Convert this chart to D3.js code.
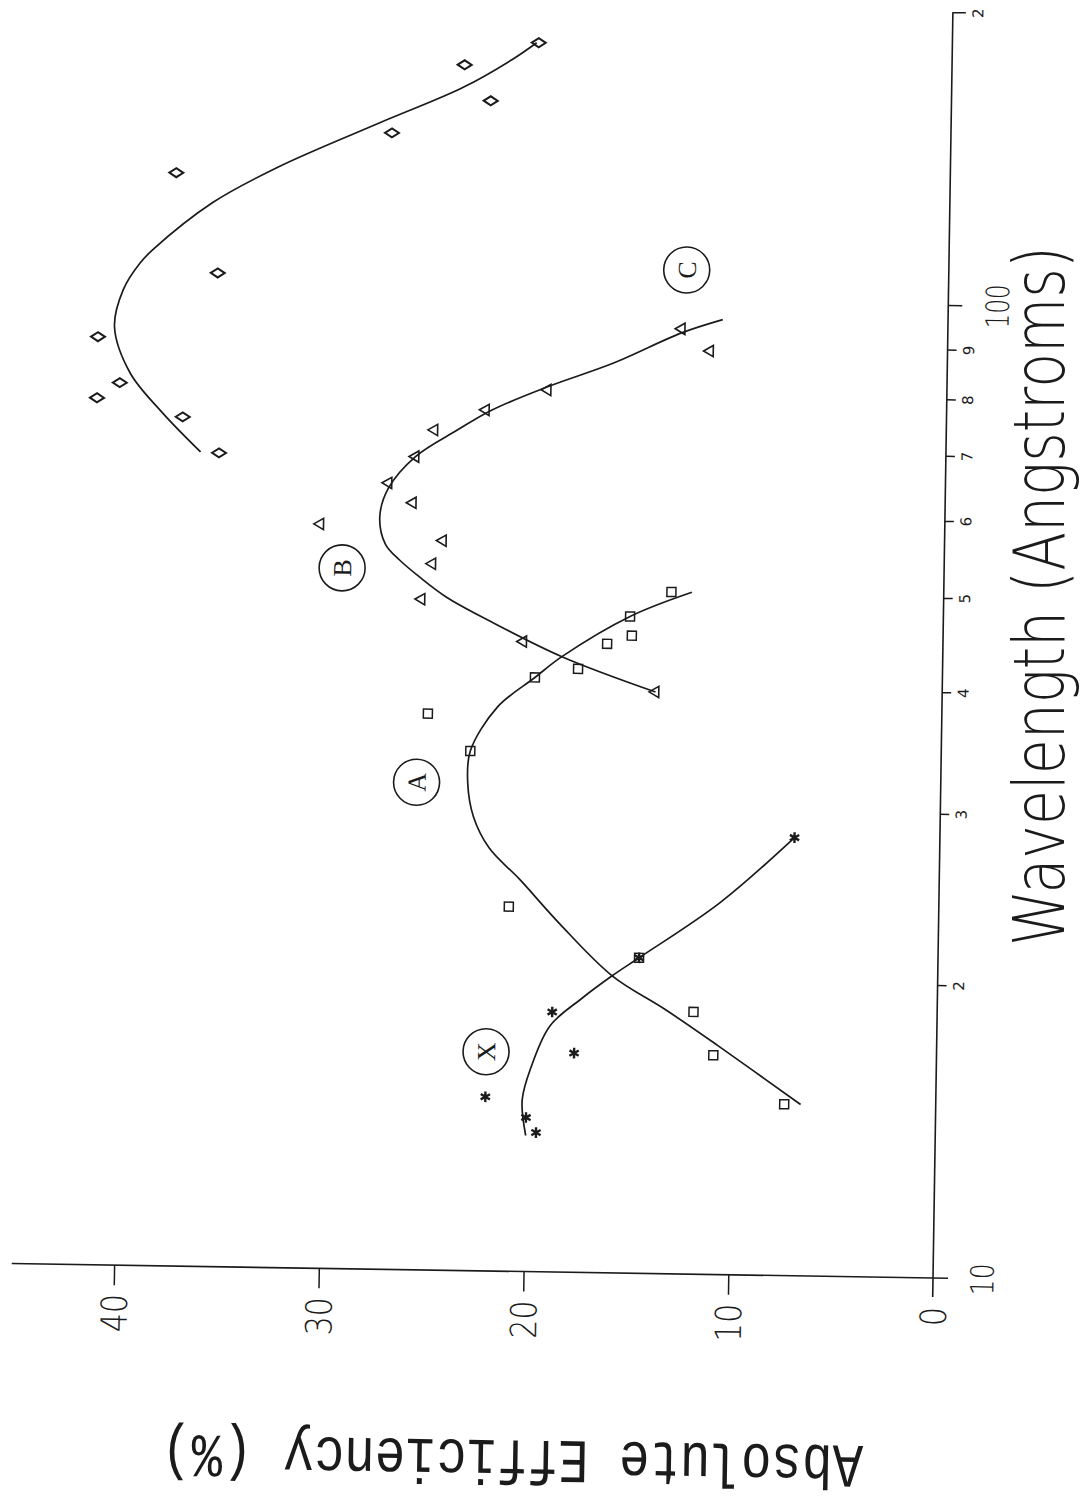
<!DOCTYPE html>
<html>
<head>
<meta charset="utf-8">
<script src="https://cdn.jsdelivr.net/npm/d3@7"></script>
<style>
  html, body { margin: 0; padding: 0; background: #fff; }
  svg { display: block; }
</style>
</head>
<body>
<svg id="chart" width="1084" height="1500"></svg>
<script>
// ---- Grating X (asterisks) ----
const xWavelength = [28.2, 21.1, 18.5, 16.8, 15.1, 14.4, 13.9];
const xEfficiency = [7.1, 14.6, 18.8, 17.7, 22.0, 20.0, 19.5];
const xFitWavelength = [13.8, 15.0, 16.2, 17.9, 19.1, 20.2, 21.1, 24.1, 28.2];
const xFitEfficiency = [20.0, 20.2, 19.8, 18.9, 17.4, 15.9, 14.6, 10.7, 7.1];

// ---- Grating A (squares) ----
const aWavelength = [15.0, 16.8, 18.6, 21.1, 23.7, 34.2, 37.3, 40.8, 41.7, 44.3, 45.2, 47.3, 50.2];
const aEfficiency = [7.4, 10.9, 11.9, 14.6, 21.0, 23.0, 25.1, 19.9, 17.8, 16.4, 15.2, 15.3, 13.3];
const aFitWavelength = [15.0, 17.2, 18.7, 20.2, 22.8, 25.3, 27.2, 29.3, 31.7, 34.2, 38.0, 40.8, 42.9, 47.3, 50.2];
const aFitEfficiency = [6.6, 10.7, 13.3, 15.9, 18.5, 20.5, 22.0, 22.8, 23.1, 23.0, 21.7, 19.9, 18.6, 15.3, 12.3];

// ---- Grating B (triangles) ----
const bWavelength = [39.6, 44.4, 48.9, 53.2, 56.2, 58.2, 61.4, 64.3, 68.5, 73.0, 76.7, 80.6, 88.9, 93.6];
const bEfficiency = [14.0, 20.5, 25.5, 25.0, 24.5, 30.5, 26.0, 27.2, 25.9, 25.0, 22.5, 19.5, 11.6, 13.0];
const bFitWavelength = [39.6, 42.9, 46.5, 49.2, 51.5, 53.6, 55.6, 59.3, 63.5, 68.5, 73.0, 76.7, 81.2, 86.1, 92.7, 95.8];
const bFitEfficiency = [14.0, 18.6, 22.1, 24.3, 25.6, 26.6, 27.3, 27.6, 27.2, 25.9, 23.9, 22.2, 19.5, 16.3, 13.0, 11.0];

// ---- Grating C (diamonds) ----
const cWavelength = [68.6, 74.6, 77.8, 80.7, 89.9, 105.0, 132.9, 147.2, 159.4, 173.4, 183.2];
const cEfficiency = [35.5, 37.3, 41.5, 40.4, 41.5, 35.7, 37.8, 27.3, 22.5, 23.8, 20.2];
const cFitWavelength = [68.7, 75.3, 82.6, 92.1, 100.6, 107.2, 110.6, 124.0, 135.3, 150.7, 164.2, 175.8, 183.2];
const cFitEfficiency = [36.4, 38.3, 39.9, 40.7, 40.3, 39.5, 38.9, 36.0, 32.8, 27.9, 23.9, 21.5, 20.3];

// ---- Curve tags (circled letters) ----
const tagNames = ["X", "A", "B", "C"];
const tagWavelength = [16.8, 31.7, 52.5, 107.6];
const tagEfficiency = [22.0, 25.6, 29.4, 12.8];

// ---- Axes ----
const wavelengthTicks = [10, 20, 30, 40, 50, 60, 70, 80, 90, 100, 200];
const wavelengthTickLabels = ["10", "2", "3", "4", "5", "6", "7", "8", "9", "100", "2"];
const efficiencyTicks = [0, 10, 20, 30, 40];
const wavelengthTitle = "Wavelength (Angstroms)";
const efficiencyTitle = "Absolute Efficiency (%)";

// The plot is laid out sideways: wavelength runs up the page, efficiency runs to the left.
const wl = d3.scaleLog().domain([10, 200]).range([1278, 12]);
const eff = d3.scaleLinear().domain([0, 40]).range([933, 114]);
const skew = 0.9; // slight clockwise skew of the plotted sheet

const ink = "#1b1b1b";
const thin = "'DejaVu Sans', 'Liberation Sans', sans-serif";

const svg = d3.select("#chart");
const page = svg.append("g")
  .attr("transform", `rotate(${skew}, ${eff(0)}, ${wl(10)})`);

// axis lines
page.append("line")
  .attr("x1", eff(0)).attr("x2", eff(0))
  .attr("y1", wl(10) + 19).attr("y2", wl(200))
  .attr("stroke", ink).attr("stroke-width", 1.6);
page.append("line")
  .attr("x1", eff(0) + 15).attr("x2", eff(45))
  .attr("y1", wl(10)).attr("y2", wl(10))
  .attr("stroke", ink).attr("stroke-width", 1.6);

// wavelength axis (log), ticks pointing outward to the right
const isMajor = d => d === 10 || d === 100;
const wlAxis = page.append("g")
  .attr("transform", `translate(${eff(0)},0)`)
  .call(d3.axisRight(wl).tickValues(wavelengthTicks)
    .tickFormat((d, i) => wavelengthTickLabels[i]).tickSize(9));
wlAxis.select(".domain").remove();
wlAxis.selectAll(".tick line")
  .attr("x2", d => d === 100 ? 14 : d === 200 ? 13 : 9)
  .attr("stroke", ink).attr("stroke-width", 1.5);
wlAxis.selectAll(".tick").filter(d => d === 10).select("line").remove();
wlAxis.selectAll(".tick text")
  .attr("x", 0).attr("y", 0).attr("dy", "0.36em")
  .attr("text-anchor", "middle")
  .attr("fill", ink)
  .style("font-family", thin)
  .style("font-weight", d => isMajor(d) ? 200 : 400)
  .style("font-size", d => isMajor(d) ? "32px" : "15px")
  .attr("textLength", d => d === 10 ? 32 : d === 100 ? 44 : null)
  .attr("lengthAdjust", "spacingAndGlyphs")
  .attr("transform", d => `translate(${isMajor(d) ? 49 : d === 200 ? 25 : 21},0) rotate(-90)`);

// efficiency axis, ticks pointing down
const effAxis = page.append("g")
  .attr("transform", `translate(0,${wl(10)})`)
  .call(d3.axisBottom(eff).tickValues(efficiencyTicks).tickSize(20).tickFormat(d3.format("d")));
effAxis.select(".domain").remove();
effAxis.selectAll(".tick line").attr("stroke", ink).attr("stroke-width", 1.5);
effAxis.selectAll(".tick").filter(d => d === 0).select("line").remove();
effAxis.selectAll(".tick text")
  .attr("x", 0).attr("y", 0).attr("dy", "0.36em")
  .attr("text-anchor", "end")
  .attr("fill", ink)
  .style("font-family", thin)
  .style("font-weight", 200)
  .style("font-size", "36px")
  .attr("textLength", d => String(d).length * 19)
  .attr("lengthAdjust", "spacingAndGlyphs")
  .attr("transform", "translate(0,29) rotate(-90)");

// axis titles
svg.append("text")
  .attr("transform", `translate(1064,946) rotate(-90)`)
  .attr("text-anchor", "start")
  .attr("textLength", 700).attr("lengthAdjust", "spacingAndGlyphs")
  .style("font-family", thin).style("font-weight", 200).style("font-size", "72px")
  .attr("fill", ink)
  .text(wavelengthTitle);

page.append("text")
  .attr("transform", `translate(866,1447) rotate(180)`)
  .attr("text-anchor", "start")
  .attr("textLength", 702).attr("lengthAdjust", "spacingAndGlyphs")
  .style("font-family", "'Liberation Mono', 'DejaVu Sans Mono', monospace")
  .style("font-size", "62px")
  .attr("fill", ink)
  .text(efficiencyTitle);

// fitted curves
const fitLine = d3.line()
  .x(d => eff(d[1])).y(d => wl(d[0]))
  .curve(d3.curveCatmullRom.alpha(0.5));
const zip = (w, e) => w.map((v, i) => [v, e[i]]);
const fits = [
  zip(xFitWavelength, xFitEfficiency),
  zip(aFitWavelength, aFitEfficiency),
  zip(bFitWavelength, bFitEfficiency),
  zip(cFitWavelength, cFitEfficiency)
];
page.append("g").selectAll("path")
  .data(fits)
  .join("path")
  .attr("d", fitLine)
  .attr("fill", "none").attr("stroke", ink).attr("stroke-width", 1.7);

// measured points
const marks = page.append("g").attr("fill", "none").attr("stroke", ink);

marks.append("g").selectAll("path")
  .data(zip(xWavelength, xEfficiency)).join("path")
  .attr("d", d3.symbol(d3.symbolAsterisk, 80))
  .attr("stroke-width", 2.4)
  .attr("transform", d => `translate(${eff(d[1])},${wl(d[0])})`);

marks.append("g").selectAll("rect")
  .data(zip(aWavelength, aEfficiency)).join("rect")
  .attr("x", d => eff(d[1]) - 4.5).attr("y", d => wl(d[0]) - 4.5)
  .attr("width", 9).attr("height", 9)
  .attr("stroke-width", 1.5);

marks.append("g").selectAll("path")
  .data(zip(bWavelength, bEfficiency)).join("path")
  .attr("d", d3.symbol(d3.symbolTriangle, 55))
  .attr("stroke-width", 1.6)
  .attr("transform", d => `translate(${eff(d[1])},${wl(d[0])}) rotate(-90)`);

marks.append("g").selectAll("path")
  .data(zip(cWavelength, cEfficiency)).join("path")
  .attr("d", "M-7,0L0,-4.5L7,0L0,4.5Z")
  .attr("stroke-width", 2)
  .attr("transform", d => `translate(${eff(d[1])},${wl(d[0])})`);

// circled curve tags
const tags = page.append("g").selectAll("g")
  .data(tagNames.map((n, i) => ({ n, w: tagWavelength[i], e: tagEfficiency[i] })))
  .join("g")
  .attr("transform", d => `translate(${eff(d.e)},${wl(d.w)})`);
tags.append("circle").attr("r", 23)
  .attr("fill", "none").attr("stroke", ink).attr("stroke-width", 1.6);
tags.append("text")
  .attr("transform", "rotate(-90)")
  .attr("text-anchor", "middle").attr("dy", "0.35em")
  .style("font-family", "'Liberation Serif', serif")
  .style("font-size", "26px")
  .attr("fill", ink)
  .text(d => d.n);
</script>
</body>
</html>
